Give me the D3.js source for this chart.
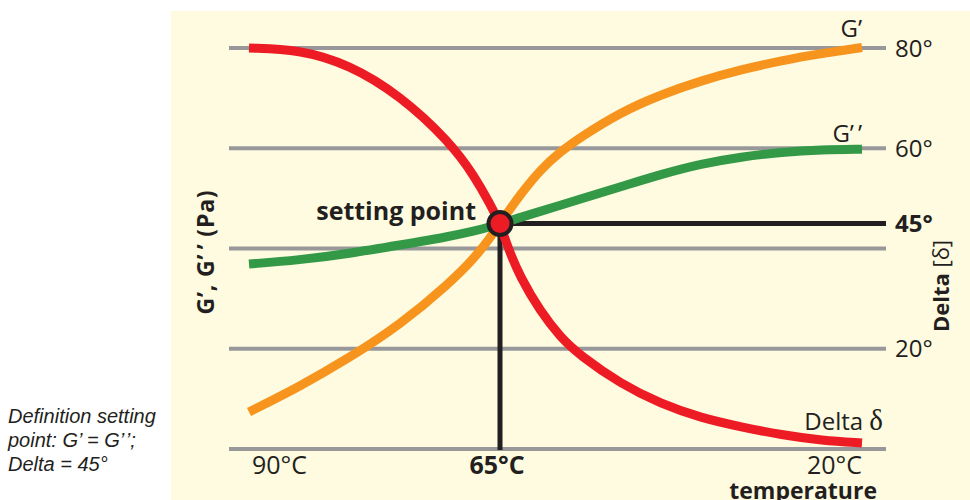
<!DOCTYPE html>
<html>
<head>
<meta charset="utf-8">
<script src="https://cdn.jsdelivr.net/npm/d3@7/dist/d3.min.js"></script>
<style>
  html, body { margin: 0; padding: 0; background: #ffffff; }
  svg { display: block; }
  text { font-family: "Open Sans", "Noto Sans", sans-serif; fill: #231f20; }
</style>
</head>
<body>
<svg id="chart" width="970" height="500"></svg>
<script>
// ---- data ----
const temps    = [90, 85, 80, 75, 70, 67.5, 66, 65, 64, 62.5, 60, 57.5, 55, 50, 45, 40, 35, 30, 25, 20];
const gPrime   = [7.4, 12.4, 18.2, 24.7, 33.1, 38.2, 42.1, 45, 47.3, 50.7, 55.7, 59.3, 62.2, 67.2, 70.7, 73.5, 75.7, 77.5, 78.9, 80.1];
const gDouble  = [36.9, 37.7, 39.0, 40.7, 42.4, 43.5, 44.3, 45, 45.4, 46.2, 47.4, 48.6, 49.9, 52.3, 54.8, 56.9, 58.3, 59.2, 59.7, 59.8];
const delta    = [80, 79.7, 76.7, 70.6, 61.3, 54.3, 48.9, 45, 40.1, 34.3, 27.5, 22.3, 18.6, 13.0, 9.0, 6.2, 4.4, 2.8, 1.7, 1.2];
const gridValues   = [0, 20, 40, 60, 80];
const degreeTicks  = [80, 60, 45, 20];
const tempTicks    = [90, 65, 20];
const settingTemp  = 65;
const settingDelta = 45;

const svg = d3.select("#chart");

// scales
const x = d3.scaleLinear().domain([90, 65, 20]).range([249, 500, 862]);
const y = d3.scaleLinear().domain([0, 80]).range([449, 48]);
const gridX0 = 229, gridX1 = 886;

// panel background
svg.append("rect").attr("x", 171).attr("y", 11).attr("width", 799).attr("height", 489)
  .attr("fill", "#fefbe0");

// gridlines
svg.append("g").selectAll("line").data(gridValues).join("line")
  .attr("x1", gridX0).attr("x2", gridX1)
  .attr("y1", d => y(d)).attr("y2", d => y(d))
  .attr("stroke", "#98989b").attr("stroke-width", 4);

// setting point guide lines
svg.append("line").attr("x1", x(settingTemp)).attr("x2", gridX1)
  .attr("y1", y(settingDelta)).attr("y2", y(settingDelta))
  .attr("stroke", "#231f20").attr("stroke-width", 5);
svg.append("line").attr("x1", x(settingTemp)).attr("x2", x(settingTemp))
  .attr("y1", y(settingDelta)).attr("y2", y(0) + 1)
  .attr("stroke", "#231f20").attr("stroke-width", 5);

// curves
const line = d3.line().x(d => x(d[0])).y(d => y(d[1])).curve(d3.curveBasis);
const series = [
  { values: gPrime,  color: "#f7941d" },
  { values: gDouble, color: "#339947" },
  { values: delta,   color: "#ed1c24" }
];
svg.append("g").selectAll("path").data(series).join("path")
  .attr("d", s => line(temps.map((t, i) => [t, s.values[i]])))
  .attr("fill", "none")
  .attr("stroke", s => s.color)
  .attr("stroke-width", 9)
  .attr("stroke-linecap", "butt");

// setting point marker
svg.append("circle").attr("cx", x(settingTemp)).attr("cy", y(settingDelta)).attr("r", 11.5)
  .attr("fill", "#ed1c24").attr("stroke", "#231f20").attr("stroke-width", 4);

svg.append("text").attr("x", 476).attr("y", 220).attr("text-anchor", "end")
  .attr("font-size", 25).attr("font-weight", 700).text("setting point");

// right degree tick labels
svg.append("g").selectAll("text").data(degreeTicks).join("text")
  .attr("x", 895).attr("y", d => y(d)).attr("dy", "0.36em")
  .attr("font-size", 24)
  .attr("font-weight", d => d === settingDelta ? 700 : 400)
  .text(d => d + "°");

// temperature tick labels
const anchors = ["start", "middle", "end"];
svg.append("g").selectAll("text").data(tempTicks).join("text")
  .attr("x", (d, i) => i === 0 ? 252 : (i === 1 ? x(d) - 3 : x(d)))
  .attr("y", 474)
  .attr("text-anchor", (d, i) => anchors[i])
  .attr("font-size", 25)
  .attr("font-weight", d => d === settingTemp ? 700 : 400)
  .text(d => d + "°C");

svg.append("text").attr("x", 877).attr("y", 499).attr("text-anchor", "end")
  .attr("font-size", 23).attr("font-weight", 700).text("temperature");

// series labels
svg.append("text").attr("x", 862).attr("y", 37).attr("text-anchor", "end")
  .attr("font-size", 24).text("G’");
svg.append("text").attr("x", 862).attr("y", 142).attr("text-anchor", "end")
  .attr("font-size", 24).text("G’\u2009’");
const dl = svg.append("text").attr("x", 883).attr("y", 430).attr("text-anchor", "end")
  .attr("font-size", 24);
dl.append("tspan").text("Delta ");
dl.append("tspan").attr("font-size", 29)
  .style("font-family", "'Liberation Serif', 'DejaVu Serif', serif").text("δ");

// axis titles
svg.append("text").attr("transform", "translate(214,252) rotate(-90)")
  .attr("text-anchor", "middle").attr("font-size", 23).attr("font-weight", 700)
  .attr("letter-spacing", 0.8)
  .text("G’, G’\u2009’ (Pa)");
const dt = svg.append("text").attr("transform", "translate(949,286) rotate(-90)")
  .attr("text-anchor", "middle").attr("font-size", 22);
dt.append("tspan").attr("font-weight", 700).text("Delta ");
dt.append("tspan").text("[δ]");

// note
const noteLines = ["Definition setting", "point: G’ = G’\u200A’;", "Delta = 45°"];
svg.append("g").selectAll("text").data(noteLines).join("text")
  .attr("x", 8).attr("y", (d, i) => 423 + i * 24)
  .style("font-family", "'Liberation Sans', Arial, sans-serif")
  .attr("font-size", 20).attr("font-style", "italic").text(d => d);
</script>
</body>
</html>
